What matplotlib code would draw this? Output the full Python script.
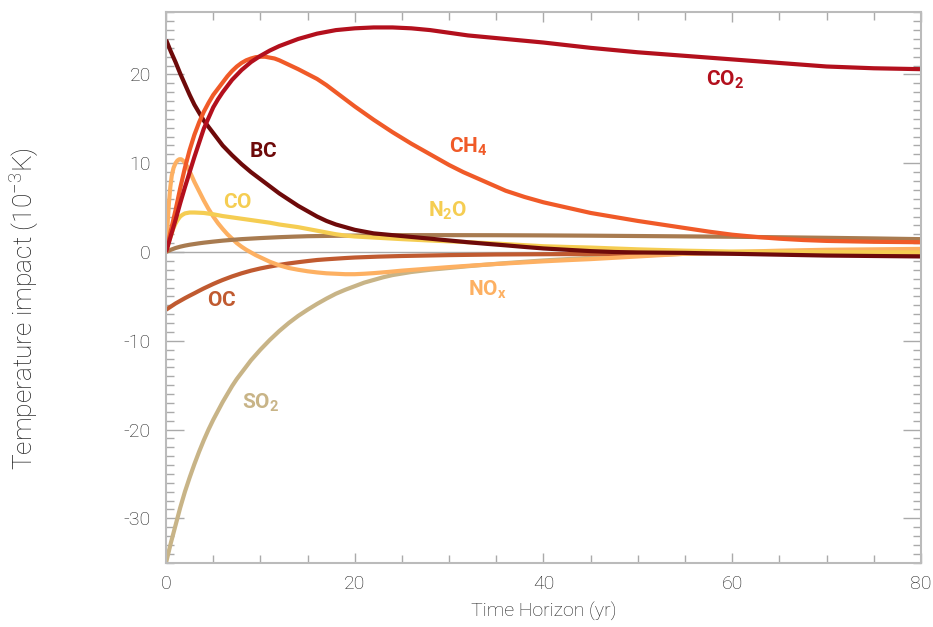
import matplotlib
matplotlib.use("Agg")
import matplotlib.pyplot as plt
from matplotlib.ticker import MultipleLocator

plt.rcParams["font.family"] = ["Roboto", "DejaVu Sans"]
plt.rcParams["axes.unicode_minus"] = False
plt.rcParams["mathtext.fontset"] = "custom"
plt.rcParams["mathtext.rm"] = "Roboto:light"
plt.rcParams["mathtext.bf"] = "Roboto:bold"
plt.rcParams["mathtext.default"] = "rm"

# values (years, 10^-3 K)
co2_x = [0, 0.5, 1, 1.5, 2, 2.5, 3, 3.5, 4, 4.5, 5, 5.5, 6, 6.5, 7, 7.5, 8, 9, 10, 11, 12, 13, 14, 15, 16, 17, 18, 19, 20,
         21, 22, 23, 24, 25, 26, 27, 28, 29, 30, 31, 32, 33.5, 35, 37.5, 40, 42.5, 45, 47.5, 50, 52.5, 55, 57.5, 60,
         62.5, 65, 67.5, 70, 72.5, 75, 77.5, 80]
co2_y = [0, 1.8, 3.6, 5.5, 7.3, 9.0, 10.7, 12.3, 13.9, 15.1, 16.3, 17.2, 18.0, 18.7, 19.4, 19.95, 20.5, 21.4, 22.1, 22.7,
         23.2, 23.6, 24.0, 24.3, 24.6, 24.8, 25.0, 25.1, 25.2, 25.25, 25.3, 25.3, 25.3, 25.25, 25.2, 25.1, 25.0, 24.85,
         24.7, 24.55, 24.4, 24.25, 24.1, 23.85, 23.6, 23.3, 23.0, 22.75, 22.5, 22.3, 22.1, 21.9, 21.7, 21.5, 21.3, 21.1,
         20.9, 20.8, 20.7, 20.65, 20.6]

ch4_x = [0, 0.5, 1, 1.5, 2, 2.5, 3, 3.5, 4, 4.5, 5, 5.5, 6, 6.5, 7, 7.5, 8, 8.5, 9, 9.5, 10, 10.5, 11, 11.5, 12, 12.5,
         13, 14, 15, 16, 17, 18, 19, 20, 21, 22, 23, 24, 25, 26, 27, 28, 29, 30, 31.5, 33, 34.5, 36, 38, 40, 42.5, 45,
         47.5, 50, 52.5, 55, 57.5, 60, 62.5, 65, 67.5, 70, 75, 80]
ch4_y = [0, 2.4, 4.7, 7.2, 9.5, 11.5, 13.2, 14.6, 15.8, 16.8, 17.7, 18.4, 19.1, 19.8, 20.4, 20.9, 21.3, 21.6, 21.8, 21.95,
         22.0, 22.0, 21.9, 21.8, 21.6, 21.35, 21.1, 20.6, 20.05, 19.5, 18.8, 18.0, 17.2, 16.4, 15.65, 14.9, 14.2, 13.5,
         12.85, 12.2, 11.6, 11.0, 10.4, 9.8, 9.0, 8.3, 7.6, 6.9, 6.2, 5.6, 5.0, 4.4, 3.95, 3.5, 3.1, 2.7, 2.3, 1.95,
         1.7, 1.5, 1.35, 1.25, 1.15, 1.1]

bc_x = [0, 0.5, 1, 1.5, 2, 2.5, 3, 3.5, 4, 4.5, 5, 5.5, 6, 6.5, 7, 7.5, 8, 8.5, 9, 9.5, 10, 11, 12, 13, 14, 15, 16, 17,
        18, 19, 20, 21, 22, 23.5, 25, 26.5, 28, 30, 32, 34, 36, 38, 40, 42.5, 45, 47.5, 50, 55, 60, 65, 70, 75, 80]
bc_y = [23.9, 22.6, 21.4, 20.1, 18.9, 17.7, 16.6, 15.7, 14.8, 14.1, 13.4, 12.7, 12.0, 11.45, 10.9, 10.4, 9.9, 9.45, 9.0,
        8.6, 8.2, 7.4, 6.6, 5.9, 5.2, 4.6, 4.0, 3.5, 3.1, 2.8, 2.5, 2.3, 2.1, 1.95, 1.8, 1.65, 1.5, 1.3, 1.1, 0.92,
        0.75, 0.57, 0.4, 0.25, 0.1, 0.0, -0.05, -0.1, -0.2, -0.3, -0.4, -0.45, -0.5]

co_x = [0, 0.25, 0.5, 0.75, 1, 1.25, 1.5, 1.75, 2, 2.5, 3, 4, 5, 6, 7, 8, 9, 10, 11, 12, 13, 14, 15, 16, 17, 18, 19, 20,
        22.5, 25, 27.5, 30, 32.5, 35, 37.5, 40, 42.5, 45, 47.5, 50, 55, 60, 70, 80]
co_y = [0, 1.0, 1.8, 2.6, 3.2, 3.65, 4.0, 4.2, 4.35, 4.45, 4.45, 4.4, 4.25, 4.05, 3.9, 3.75, 3.6, 3.45, 3.3, 3.1, 2.95,
        2.8, 2.6, 2.4, 2.2, 2.0, 1.85, 1.75, 1.6, 1.45, 1.32, 1.2, 1.08, 0.95, 0.8, 0.65, 0.57, 0.5, 0.4, 0.3, 0.15,
        0.05, 0.0, -0.05]

nox_x = [0, 0.15, 0.3, 0.45, 0.6, 0.8, 1, 1.2, 1.4, 1.6, 1.8, 2, 2.2, 2.6, 3, 3.5, 4, 4.5, 5, 5.5, 6, 6.5, 7, 7.5, 8,
         8.5, 9, 9.5, 10, 11, 12, 13, 14, 15, 16, 17, 18, 19, 20, 21, 22, 23.5, 25, 27.5, 30, 32.5, 35, 37.5, 40, 42.5,
         45, 47.5, 50, 55, 60, 65, 70, 75, 80]
nox_y = [0, 3.0, 5.5, 7.3, 8.6, 9.5, 10.0, 10.3, 10.45, 10.45, 10.3, 10.05, 9.7, 8.85, 7.9, 6.85, 5.8, 4.85, 4.0, 3.25,
         2.6, 2.0, 1.5, 1.0, 0.6, 0.25, -0.05, -0.35, -0.6, -1.1, -1.5, -1.8, -2.0, -2.17, -2.3, -2.4, -2.45, -2.5,
         -2.5, -2.45, -2.38, -2.25, -2.1, -1.9, -1.7, -1.52, -1.35, -1.2, -1.05, -0.92, -0.8, -0.65, -0.5, -0.2, 0.0,
         0.15, 0.25, 0.3, 0.35]

oc_x = [0, 0.5, 1, 1.5, 2, 2.5, 3, 3.5, 4, 4.5, 5, 5.5, 6, 7, 8, 9, 10, 11, 12, 13, 14, 15, 16, 17, 18, 19, 20, 22.5,
        25, 27.5, 30, 35, 40, 50, 60, 70, 80]
oc_y = [-6.5, -6.15, -5.8, -5.5, -5.2, -4.92, -4.65, -4.37, -4.1, -3.85, -3.6, -3.37, -3.15, -2.75, -2.4, -2.1, -1.85,
        -1.64, -1.45, -1.29, -1.15, -1.02, -0.9, -0.82, -0.75, -0.68, -0.62, -0.52, -0.45, -0.4, -0.35, -0.28, -0.25,
        -0.2, -0.15, -0.15, -0.15]

so2_x = [0, 0.5, 1, 1.5, 2, 2.5, 3, 3.5, 4, 4.5, 5, 5.5, 6, 6.5, 7, 7.5, 8, 8.5, 9, 9.5, 10, 11, 12, 13, 14, 15, 16, 17,
         18, 19, 20, 21, 22, 23, 24, 26, 28, 30, 32, 34, 36, 38, 40, 42.5, 45, 47.5, 50, 55, 60, 65, 70, 75, 80]
so2_y = [-35, -32.8, -30.8, -28.8, -27.0, -25.4, -23.9, -22.5, -21.2, -20.0, -18.9, -17.9, -16.9, -16.0, -15.1, -14.3,
         -13.6, -12.9, -12.2, -11.6, -11.0, -9.9, -8.9, -8.0, -7.2, -6.5, -5.85, -5.25, -4.7, -4.25, -3.85, -3.45,
         -3.15, -2.85, -2.6, -2.25, -2.0, -1.8, -1.6, -1.42, -1.25, -1.1, -0.95, -0.8, -0.65, -0.52, -0.4, -0.2, -0.05,
         0.05, 0.1, 0.15, 0.2]

brown_x = [0, 0.5, 1, 1.5, 2, 2.5, 3, 3.5, 4, 5, 6, 7, 8, 9, 10, 11, 12, 13.5, 15, 17.5, 20, 22.5, 25, 30, 35, 40, 45,
           50, 55, 60, 65, 70, 75, 80]
brown_y = [0, 0.25, 0.45, 0.6, 0.72, 0.82, 0.9, 0.98, 1.05, 1.17, 1.28, 1.37, 1.45, 1.51, 1.57, 1.62, 1.67, 1.73, 1.78,
           1.82, 1.85, 1.88, 1.9, 1.9, 1.89, 1.87, 1.84, 1.8, 1.76, 1.72, 1.66, 1.6, 1.53, 1.45]

series = [
    (so2_x, so2_y, "#c8b487"),
    (oc_x, oc_y, "#c05a30"),
    (nox_x, nox_y, "#fdb062"),
    (brown_x, brown_y, "#a87b50"),
    (co_x, co_y, "#f5cd52"),
    (bc_x, bc_y, "#6e0a0a"),
    (ch4_x, ch4_y, "#f05a28"),
    (co2_x, co2_y, "#b3101d"),
]

labels = [
    (r"$\mathbf{CO_2}$", 59.2, 19.4, "#b3101d"),
    (r"$\mathbf{BC}$", 10.3, 11.3, "#6e0a0a"),
    (r"$\mathbf{CH_4}$", 32.0, 11.9, "#f05a28"),
    (r"$\mathbf{CO}$", 7.6, 5.6, "#f5cd52"),
    (r"$\mathbf{N_2O}$", 29.8, 4.6, "#f5cd52"),
    (r"$\mathbf{OC}$", 5.9, -5.5, "#c05a30"),
    (r"$\mathbf{NO_x}$", 34.1, -4.3, "#fdb062"),
    (r"$\mathbf{SO_2}$", 10.0, -17.0, "#c8b487"),
]

TXT = "#1e1e1e"

fig = plt.figure(figsize=(9.33, 6.27), dpi=100)
ax = fig.add_axes([0.178, 0.1026, 0.809, 0.8777])

ax.axhline(0, color="#aaaaaa", lw=1, zorder=1)
for x, y, c in series:
    ax.plot(x, y, color=c, lw=3, solid_capstyle="butt", solid_joinstyle="round", zorder=2)

for txt, x, y, c in labels:
    ax.text(x, y, txt, color=c, fontsize=15, ha="center", va="center", zorder=3)

ax.set_xlim(0, 80)
ax.set_ylim(-35, 27)
ax.xaxis.set_major_locator(MultipleLocator(20))
ax.xaxis.set_minor_locator(MultipleLocator(5))
ax.yaxis.set_major_locator(MultipleLocator(10))
ax.yaxis.set_minor_locator(MultipleLocator(1))

for s in ax.spines.values():
    s.set_color("#bbbbbb")
    s.set_linewidth(1.5)
ax.tick_params(axis="both", which="both", direction="in", color="#aaaaaa",
               top=True, right=True, labelsize=14, labelcolor=TXT)
ax.tick_params(axis="y", which="major", length=13, width=1, pad=11)
ax.tick_params(axis="y", which="minor", length=6, width=1)
ax.tick_params(axis="x", which="major", length=7, width=1, pad=9)
ax.tick_params(axis="x", which="minor", length=6, width=1)
for lab in ax.get_xticklabels() + ax.get_yticklabels():
    lab.set_fontweight("light")

ax.set_xlabel("Time Horizon (yr)", fontsize=14, color=TXT, labelpad=6, fontweight="light")
ax.set_ylabel(r"Temperature impact (10$^{-3}$K)", fontsize=19, color=TXT, fontweight="light", va="center")
ax.yaxis.set_label_coords(-0.187, 0.461)

fig.savefig("out.png", dpi=100)
